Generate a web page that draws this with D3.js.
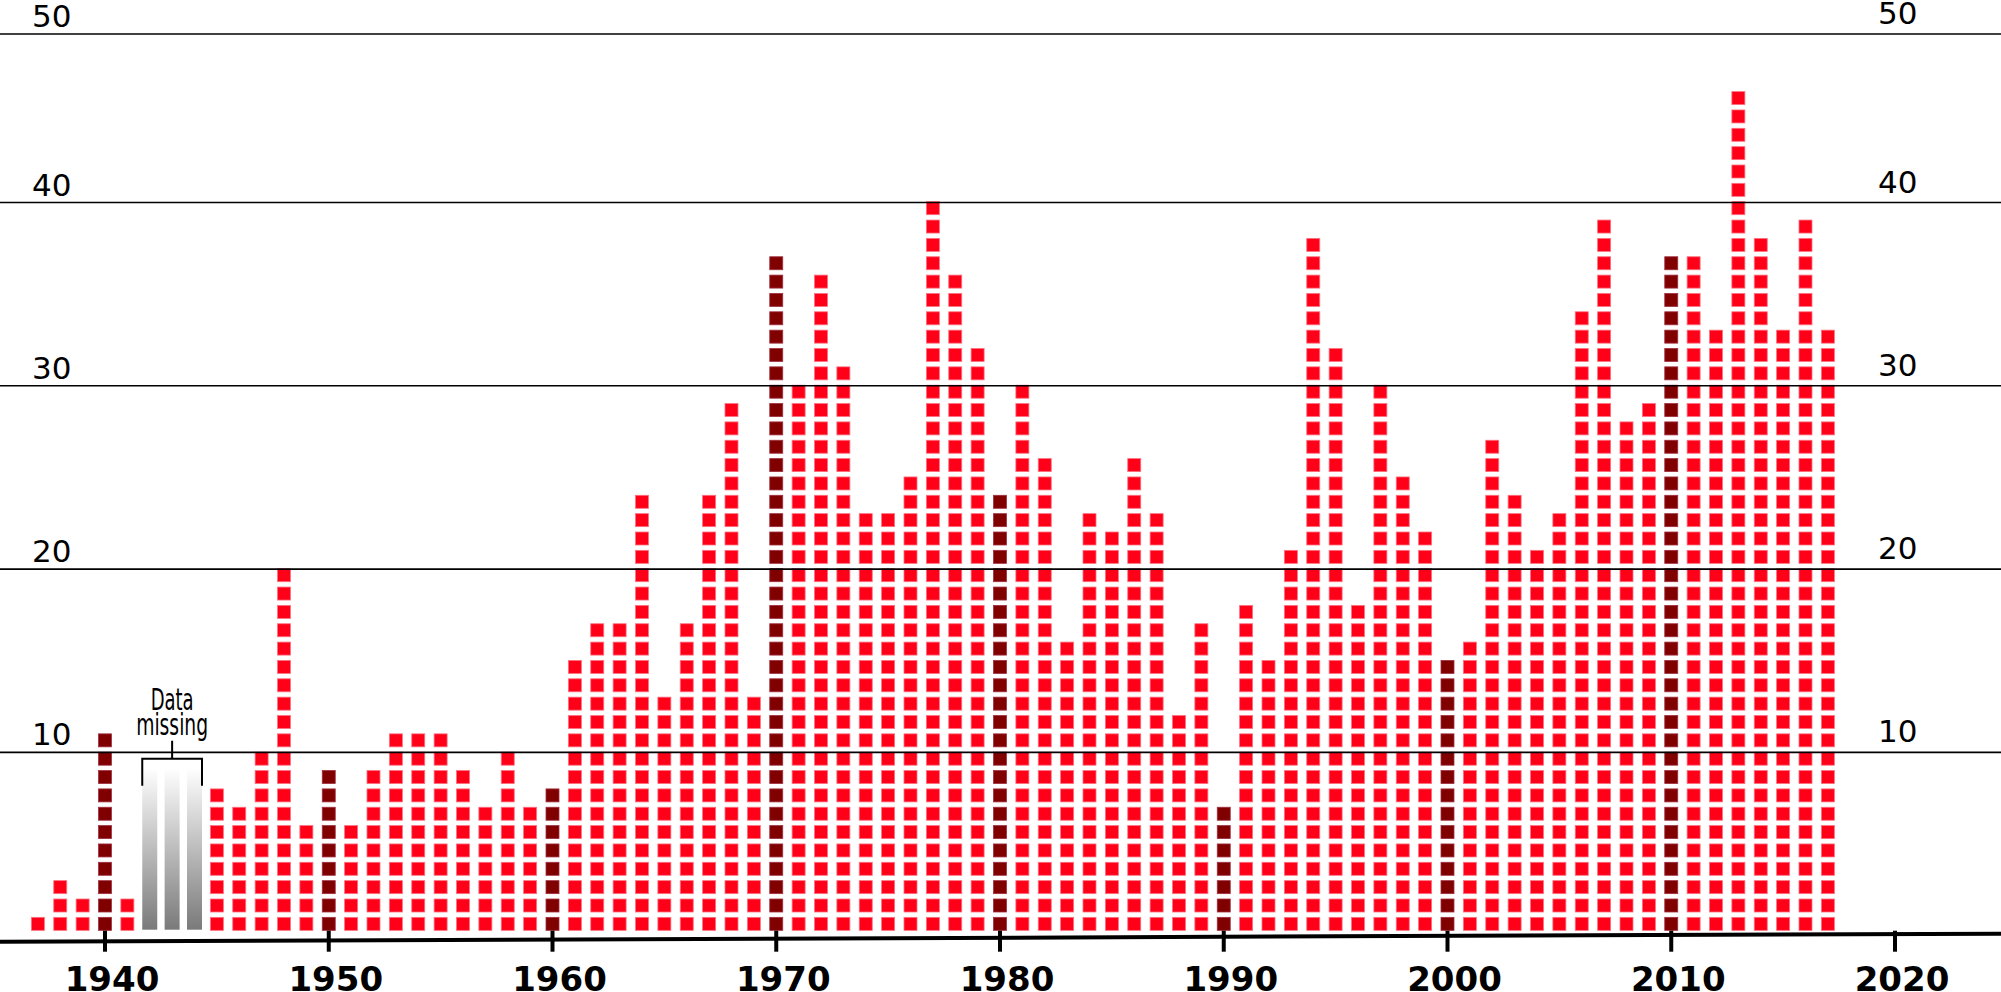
<!DOCTYPE html>
<html>
<head>
<meta charset="utf-8">
<script src="https://cdnjs.cloudflare.com/ajax/libs/d3/7.8.5/d3.min.js"></script>
<style>
body { margin: 0; background: #fff; }
svg { display: block; }
.grid-label { font-family: "DejaVu Sans", sans-serif; font-size: 31px; fill: #000; }
.year-label { font-family: "DejaVu Sans", sans-serif; font-size: 34px; font-weight: bold; fill: #000; }
.note { font-family: "DejaVu Sans Condensed", "DejaVu Sans", sans-serif; font-size: 30px; fill: #000; }
</style>
</head>
<body>
<div id="chart"></div>
<script>

var years = [1937, 1938, 1939, 1940, 1941,
  1945, 1946, 1947, 1948, 1949, 1950, 1951, 1952, 1953, 1954, 1955, 1956, 1957, 1958, 1959,
  1960, 1961, 1962, 1963, 1964, 1965, 1966, 1967, 1968, 1969,
  1970, 1971, 1972, 1973, 1974, 1975, 1976, 1977, 1978, 1979,
  1980, 1981, 1982, 1983, 1984, 1985, 1986, 1987, 1988, 1989,
  1990, 1991, 1992, 1993, 1994, 1995, 1996, 1997, 1998, 1999,
  2000, 2001, 2002, 2003, 2004, 2005, 2006, 2007, 2008, 2009,
  2010, 2011, 2012, 2013, 2014, 2015, 2016, 2017];

var counts = [1, 3, 2, 11, 2,
  8, 7, 10, 20, 6, 9, 6, 9, 11, 11, 11, 9, 7, 10, 7,
  8, 15, 17, 17, 24, 13, 17, 24, 29, 13,
  37, 30, 36, 31, 23, 23, 25, 40, 36, 32,
  24, 30, 26, 16, 23, 22, 26, 23, 12, 17,
  7, 18, 15, 21, 38, 32, 18, 30, 25, 22,
  15, 16, 27, 24, 21, 23, 34, 39, 28, 29,
  37, 37, 33, 46, 38, 33, 39, 33];

var missingYears = [1942, 1943, 1944];
var missingLevel = 9.15;   // height of the grey "no data" bars
var highlightYears = [1940, 1950, 1960, 1970, 1980, 1990, 2000, 2010];
var gridTicks = [10, 20, 30, 40, 50];
var yearTicks = [1940, 1950, 1960, 1970, 1980, 1990, 2000, 2010, 2020];

var width = 2001, height = 992;

var x = d3.scaleLinear().domain([1940, 2020]).range([105, 1895]);
var y = d3.scaleLinear().domain([0, 50]).range([935.7, 18.2]);
// the drawn grid is not quite even at the top
var gridY = d3.scaleLinear().domain([0, 40, 50]).range([935.7, 202.5, 34]);

var sq = 13;

var svg = d3.select("#chart").append("svg")
    .attr("width", width)
    .attr("height", height);

var defs = svg.append("defs");
var grad = defs.append("linearGradient")
    .attr("id", "missingGrad")
    .attr("x1", 0).attr("y1", 0).attr("x2", 0).attr("y2", 1);
grad.append("stop").attr("offset", "0%").attr("stop-color", "#ffffff");
grad.append("stop").attr("offset", "100%").attr("stop-color", "#7a7a7a");

var data = years.map(function(d, i) { return {year: d, n: counts[i]}; });

// squares
var cols = svg.append("g").attr("class", "cols")
  .selectAll("g")
    .data(data)
  .enter().append("g");

cols.selectAll("rect")
    .data(function(d) {
      return d3.range(1, d.n + 1).map(function(k) { return {year: d.year, k: k}; });
    })
  .enter().append("rect")
    .attr("x", function(d) { return x(d.year) - sq / 2; })
    .attr("y", function(d) { return y(d.k); })
    .attr("width", sq)
    .attr("height", sq)
    .style("fill", function(d) { return highlightYears.indexOf(d.year) >= 0 ? "#800000" : "#ff0018"; })
    .style("stroke", function(d) { return highlightYears.indexOf(d.year) >= 0 ? "#a03040" : "#ff7080"; })
    .style("stroke-width", 0.8);

// missing years
var barTop = y(missingLevel);

svg.append("g").selectAll("rect")
    .data(missingYears)
  .enter().append("rect")
    .attr("x", function(d) { return x(d) - 7.5; })
    .attr("y", barTop)
    .attr("width", 15)
    .attr("height", y(0) - 6 - barTop)
    .style("fill", "url(#missingGrad)");

var bx0 = x(missingYears[0]) - 7.5,
    bx1 = x(missingYears[missingYears.length - 1]) + 7.5,
    bmid = (bx0 + bx1) / 2;

svg.append("path")
    .attr("d", "M" + bx0 + "," + (barTop + 18) + "V" + (barTop - 9) + "H" + bx1 + "V" + (barTop + 18)
             + "M" + bmid + "," + (barTop - 9) + "V" + (barTop - 27))
    .style("fill", "none")
    .style("stroke", "#000")
    .style("stroke-width", 2);

svg.append("text").attr("class", "note")
    .attr("x", bmid).attr("y", barTop - 58)
    .attr("text-anchor", "middle")
    .attr("textLength", 43).attr("lengthAdjust", "spacingAndGlyphs")
    .text("Data");
svg.append("text").attr("class", "note")
    .attr("x", bmid).attr("y", barTop - 33)
    .attr("text-anchor", "middle")
    .attr("textLength", 72).attr("lengthAdjust", "spacingAndGlyphs")
    .text("missing");

// grid lines + labels
var grid = svg.append("g").attr("class", "grid");
grid.selectAll("line")
    .data(gridTicks)
  .enter().append("line")
    .attr("x1", 0).attr("x2", width)
    .attr("y1", function(d) { return gridY(d); })
    .attr("y2", function(d) { return gridY(d); })
    .style("stroke", "#000")
    .style("stroke-width", 1.6);

grid.selectAll(".lab-l")
    .data(gridTicks)
  .enter().append("text")
    .attr("class", "grid-label lab-l")
    .attr("x", 32)
    .attr("y", function(d) { return gridY(d) - 7; })
    .text(function(d) { return d; });

grid.selectAll(".lab-r")
    .data(gridTicks)
  .enter().append("text")
    .attr("class", "grid-label lab-r")
    .attr("x", 1878)
    .attr("y", function(d) { return gridY(d) - 10; })
    .text(function(d) { return d; });

// x axis (slightly tilted like the original drawing)
var axisY = d3.scaleLinear().domain([0, width]).range([y(0) + 6, y(0) - 2]);

svg.append("line")
    .attr("x1", 0).attr("y1", axisY(0))
    .attr("x2", width).attr("y2", axisY(width))
    .style("stroke", "#000")
    .style("stroke-width", 4);

var xt = svg.append("g").attr("class", "x axis");
xt.selectAll("line")
    .data(yearTicks)
  .enter().append("line")
    .attr("x1", function(d) { return x(d); })
    .attr("x2", function(d) { return x(d); })
    .attr("y1", y(0) - 5)
    .attr("y2", y(0) + 16)
    .style("stroke", "#000")
    .style("stroke-width", 4);

xt.selectAll("text")
    .data(yearTicks)
  .enter().append("text")
    .attr("class", "year-label")
    .attr("x", function(d) { return x(d) + 7; })
    .attr("y", 991)
    .attr("text-anchor", "middle")
    .text(function(d) { return d; });

</script>
</body>
</html>
